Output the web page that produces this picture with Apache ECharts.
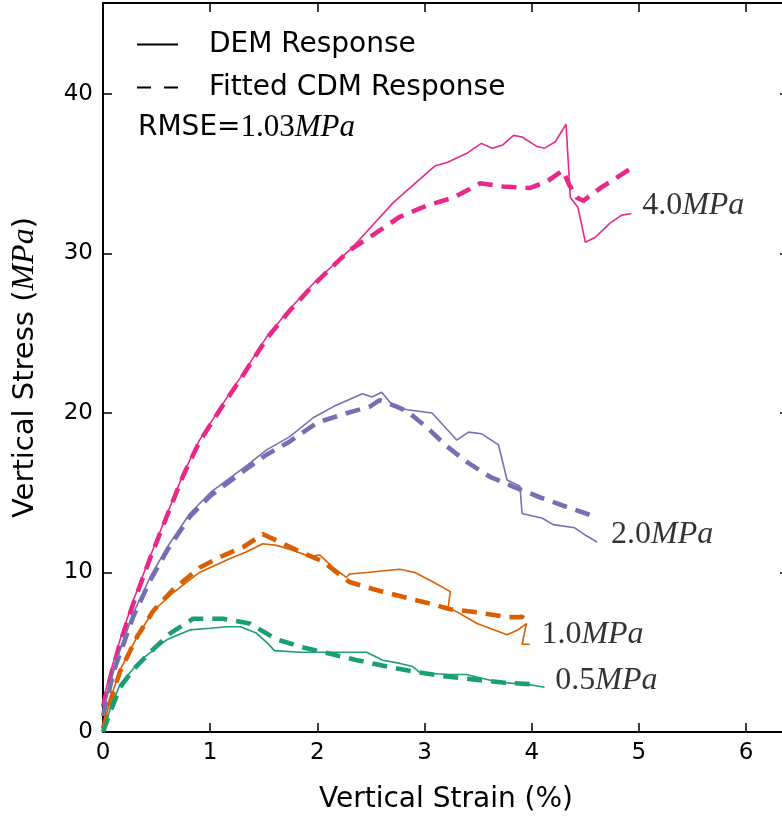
<!DOCTYPE html>
<html>
<head>
<meta charset="utf-8">
<script src="https://cdn.jsdelivr.net/npm/echarts@6/dist/echarts.min.js"></script>
<style>html,body{margin:0;padding:0;background:#fff}#c{width:782px;height:820px}</style>
</head>
<body>
<div id="c"></div>
<script>
// ---- data (strain %, stress MPa) ----
var pinkDEMx = [0, 0.08, 0.16, 0.28, 0.44, 0.60, 0.75, 0.90, 1.12, 1.31, 1.53, 1.74, 1.96, 2.33, 2.71, 3.10, 3.21, 3.40, 3.53, 3.63, 3.73, 3.83, 3.91, 4.05, 4.12, 4.22, 4.32, 4.36, 4.43, 4.50, 4.59, 4.73, 4.84, 4.93];
var pinkDEMy = [2.0, 4.0, 5.8, 8.2, 11.0, 13.7, 16.2, 18.3, 20.6, 22.5, 24.8, 26.5, 28.1, 30.4, 33.2, 35.5, 35.7, 36.3, 36.9, 36.6, 36.8, 37.4, 37.3, 36.7, 36.6, 37.0, 38.1, 33.5, 32.9, 30.7, 31.0, 31.9, 32.4, 32.5];
var pinkCDMx = [0, 0.08, 0.16, 0.28, 0.44, 0.60, 0.75, 0.90, 1.12, 1.31, 1.53, 1.74, 1.96, 2.30, 2.55, 2.77, 3.02, 3.27, 3.52, 3.73, 3.98, 4.14, 4.29, 4.35, 4.42, 4.48, 4.64, 4.92];
var pinkCDMy = [1.6, 3.7, 5.6, 8.0, 10.9, 13.6, 16.1, 18.2, 20.5, 22.4, 24.7, 26.4, 28.0, 30.2, 31.3, 32.3, 33.0, 33.5, 34.4, 34.2, 34.1, 34.5, 35.2, 34.3, 33.5, 33.3, 34.1, 35.3];

var purpDEMx = [0, 0.10, 0.28, 0.44, 0.60, 0.81, 1.00, 1.16, 1.34, 1.53, 1.74, 1.96, 2.15, 2.42, 2.51, 2.60, 2.71, 2.84, 3.07, 3.30, 3.41, 3.53, 3.69, 3.77, 3.89, 3.91, 4.10, 4.20, 4.40, 4.51, 4.61];
var purpDEMy = [1.3, 4.0, 7.4, 9.7, 11.6, 13.7, 15.0, 15.8, 16.7, 17.7, 18.5, 19.7, 20.4, 21.2, 21.0, 21.3, 20.4, 20.2, 20.0, 18.3, 18.8, 18.7, 18.0, 15.8, 15.4, 13.7, 13.4, 13.0, 12.8, 12.3, 11.9];
var purpCDMx = [0, 0.10, 0.28, 0.44, 0.60, 0.81, 1.00, 1.16, 1.34, 1.53, 1.74, 2.00, 2.28, 2.49, 2.58, 2.74, 2.84, 3.02, 3.21, 3.40, 3.61, 3.82, 4.08, 4.33, 4.59];
var purpCDMy = [1.0, 3.8, 7.2, 9.5, 11.4, 13.5, 14.8, 15.6, 16.5, 17.4, 18.2, 19.4, 20.0, 20.4, 20.8, 20.4, 20.1, 19.1, 17.9, 16.9, 16.0, 15.4, 14.7, 14.1, 13.5];

var oranDEMx = [0, 0.08, 0.16, 0.32, 0.47, 0.65, 0.90, 1.16, 1.34, 1.49, 1.62, 1.77, 1.93, 2.02, 2.15, 2.27, 2.30, 2.46, 2.77, 2.91, 3.08, 3.24, 3.22, 3.31, 3.49, 3.77, 3.87, 3.95, 3.91, 3.98];
var oranDEMy = [0.3, 2.3, 3.9, 6.0, 7.6, 8.7, 10.0, 10.8, 11.3, 11.8, 11.7, 11.4, 11.0, 11.1, 10.3, 9.7, 9.9, 10.0, 10.2, 10.0, 9.4, 8.8, 7.8, 7.5, 6.8, 6.1, 6.4, 6.8, 5.5, 5.5];
var oranCDMx = [0, 0.08, 0.16, 0.32, 0.47, 0.65, 0.90, 1.10, 1.31, 1.49, 1.65, 1.84, 2.05, 2.18, 2.30, 2.55, 2.84, 3.08, 3.24, 3.49, 3.77, 3.91, 3.94];
var oranCDMy = [0.2, 2.2, 3.8, 6.0, 7.6, 8.9, 10.3, 11.0, 11.6, 12.4, 11.9, 11.3, 10.7, 10.0, 9.4, 8.9, 8.4, 8.0, 7.7, 7.5, 7.2, 7.2, 7.8];

var grenDEMx = [0, 0.07, 0.16, 0.35, 0.60, 0.81, 1.00, 1.16, 1.28, 1.43, 1.53, 1.60, 1.84, 2.15, 2.46, 2.61, 2.77, 2.89, 2.96, 3.24, 3.39, 3.70, 3.95, 4.12];
var grenDEMy = [0, 1.5, 3.0, 4.5, 5.8, 6.4, 6.5, 6.6, 6.6, 6.2, 5.6, 5.1, 5.0, 5.0, 5.0, 4.5, 4.3, 4.1, 3.7, 3.6, 3.6, 3.1, 3.0, 2.8];
var grenCDMx = [0, 0.07, 0.16, 0.28, 0.44, 0.63, 0.84, 1.12, 1.37, 1.62, 1.87, 2.12, 2.37, 2.65, 2.89, 3.17, 3.45, 3.73, 3.98];
var grenCDMy = [0, 1.3, 2.8, 3.9, 5.0, 6.2, 7.1, 7.1, 6.8, 5.8, 5.3, 4.9, 4.5, 4.1, 3.8, 3.5, 3.3, 3.1, 3.0];

var curveLabels = ['4.0', '2.0', '1.0', '0.5'];
var curveLabelX = [5.03, 4.74, 4.09, 4.22];
var curveLabelY = [33.0, 12.4, 6.1, 3.2];

var xTicks = [0, 1, 2, 3, 4, 5, 6];
var yTicks = [0, 10, 20, 30, 40];
var legendNames = ['DEM Response', 'Fitted CDM Response'];

// ---- styles ----
var colors = {pink: '#e7298a', purp: '#7570b3', oran: '#d95f02', gren: '#1b9e77'};
var SANS = 'DejaVu Sans';
var SERIF = 'Liberation Serif';

function zip(xs, ys) { return xs.map(function (x, i) { return [x, ys[i]]; }); }
function solid(name, xs, ys, c) {
  return {type: 'line', name: name, data: zip(xs, ys), symbol: 'none', z: 3,
    lineStyle: {color: c, width: 1.6}, itemStyle: {color: c}};
}
function dashed(name, xs, ys, c) {
  return {type: 'line', name: name, data: zip(xs, ys), symbol: 'none', z: 2,
    lineStyle: {color: c, width: 4.6, type: [15, 9]}, itemStyle: {color: c}};
}
function axisLineS() { return {show: true, onZero: false, lineStyle: {color: '#000', width: 2}}; }
function axisTickS() { return {show: true, inside: true, length: 9, lineStyle: {color: '#000', width: 1.5}}; }
function nameStyle(sz) {
  return {fontSize: sz, fontFamily: SANS, color: '#000',
    rich: {i: {fontSize: sz + 3, fontFamily: SERIF, fontStyle: 'italic', color: '#000'}}};
}

var option = {
  animation: false,
  backgroundColor: '#fff',
  grid: {left: 103, top: 3, width: 686, height: 729, outerBoundsMode: 'none', containLabel: false},
  title: {
    text: 'RMSE={n|1.03}{i|MPa}',
    left: 133, top: 107,
    textStyle: {fontSize: 28, fontWeight: 'normal', color: '#000', fontFamily: SANS,
      rich: {n: {fontSize: 31, fontFamily: SERIF, color: '#000'},
             i: {fontSize: 31, fontFamily: SERIF, fontStyle: 'italic', color: '#000'}}}
  },
  legend: {
    data: [
      {name: legendNames[0], icon: 'path://M0,0h41v2h-41z'},
      {name: legendNames[1], icon: 'path://M0,0h14v2h-14z M27,0h14v2h-14z'}
    ],
    orient: 'vertical', left: 132, top: 23,
    itemWidth: 41, itemHeight: 2, itemGap: 10,
    textStyle: {fontSize: 28, fontFamily: SANS, color: '#000', lineHeight: 33, padding: [0, 0, 0, 26]},
    selectedMode: false
  },
  xAxis: [{
    type: 'value', min: 0, max: 6.4, interval: 1,
    axisLine: axisLineS(), axisTick: axisTickS(), splitLine: {show: false},
    axisLabel: {margin: 10, showMaxLabel: false, color: '#000', fontSize: 23, fontFamily: SANS,
      formatter: function (v) { return xTicks.indexOf(v) >= 0 ? String(v) : ''; }},
    name: 'Vertical Strain (%)', nameLocation: 'middle', nameGap: 54,
    nameTextStyle: nameStyle(28)
  }, {
    type: 'value', position: 'top', min: 0, max: 6.4, interval: 1, show: true,
    axisLine: axisLineS(), axisTick: axisTickS(), axisLabel: {show: false}, splitLine: {show: false}
  }],
  yAxis: [{
    type: 'value', min: 0, max: 45.7, interval: 10,
    axisLine: axisLineS(), axisTick: axisTickS(), splitLine: {show: false},
    axisLabel: {margin: 10, showMaxLabel: false, color: '#000', fontSize: 23, fontFamily: SANS,
      formatter: function (v) { return yTicks.indexOf(v) >= 0 ? String(v) : ''; }},
    name: 'Vertical Stress ({i|MPa})', nameLocation: 'middle', nameGap: 62,
    nameTextStyle: nameStyle(29)
  }, {
    type: 'value', position: 'right', min: 0, max: 45.7, interval: 10, show: true,
    axisLine: axisLineS(), axisTick: axisTickS(), axisLabel: {show: false}, splitLine: {show: false}
  }],
  series: [
    {type: 'line', name: legendNames[0], data: [], symbol: 'none', lineStyle: {color: '#000', width: 1.6}, itemStyle: {color: '#000'}},
    {type: 'line', name: legendNames[1], data: [], symbol: 'none', lineStyle: {color: '#000', width: 2, type: [13, 12]}, itemStyle: {color: '#000'}},
    dashed('p4c', pinkCDMx, pinkCDMy, colors.pink),
    solid('p4d', pinkDEMx, pinkDEMy, colors.pink),
    dashed('p2c', purpCDMx, purpCDMy, colors.purp),
    solid('p2d', purpDEMx, purpDEMy, colors.purp),
    dashed('p1c', oranCDMx, oranCDMy, colors.oran),
    solid('p1d', oranDEMx, oranDEMy, colors.oran),
    dashed('p05c', grenCDMx, grenCDMy, colors.gren),
    solid('p05d', grenDEMx, grenDEMy, colors.gren),
    {
      type: 'scatter', name: 'labels', symbolSize: 0, silent: true, z: 5,
      data: curveLabels.map(function (t, i) { return [curveLabelX[i], curveLabelY[i]]; }),
      label: {
        show: true, position: 'right', distance: 0,
        formatter: function (p) { return '{n|' + curveLabels[p.dataIndex] + '}{i|MPa}'; },
        rich: {n: {fontSize: 32, fontFamily: SERIF, color: '#000'},
               i: {fontSize: 32, fontFamily: SERIF, fontStyle: 'italic', color: '#000'}}
      }
    }
  ]
};

var chart = echarts.init(document.getElementById('c'), null, {renderer: 'canvas'});
chart.setOption(option);
</script>
</body>
</html>
